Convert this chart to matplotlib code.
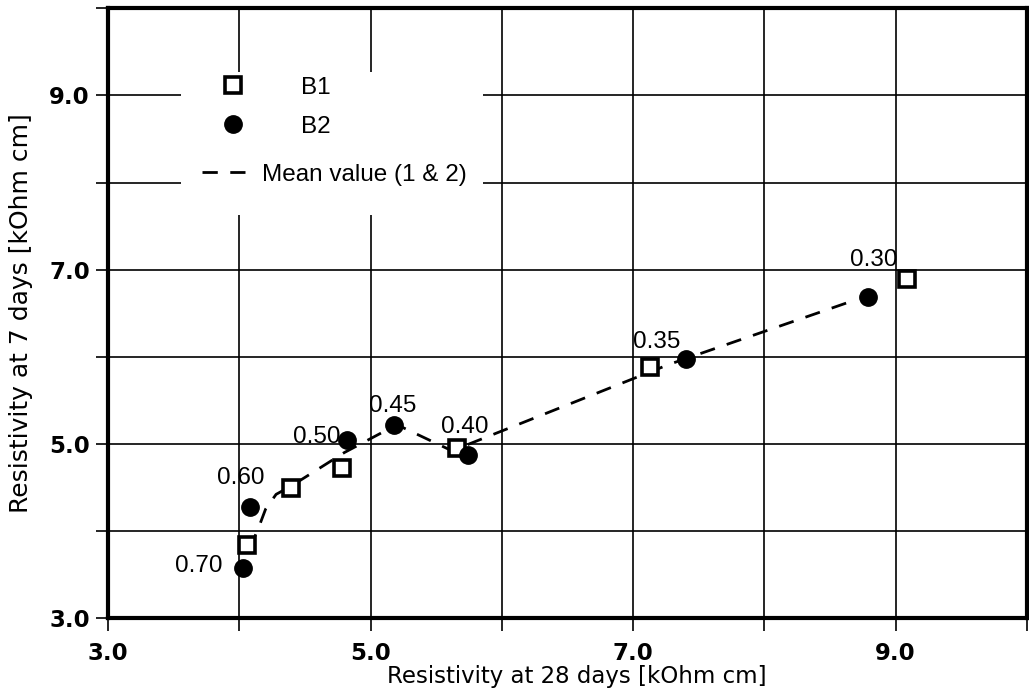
import matplotlib
matplotlib.use("Agg")
import matplotlib.pyplot as plt
from matplotlib.patches import Rectangle
from matplotlib.ticker import FixedLocator, FuncFormatter

# resistivity [kOhm cm] at 28 days (x) and 7 days (y)
b1_x = [4.06, 4.39, 4.78, 5.66, 7.13, 9.09]
b1_y = [3.84, 4.49, 4.72, 4.95, 5.88, 6.89]

b2_x = [4.03, 4.08, 4.82, 5.18, 5.74, 7.40, 8.79]
b2_y = [3.58, 4.27, 5.04, 5.22, 4.87, 5.97, 6.69]

mean_x = [4.08, 4.15, 4.20, 4.28, 4.40, 4.80, 5.20, 5.62, 7.27, 8.65]
mean_y = [3.80, 4.05, 4.25, 4.42, 4.52, 4.90, 5.22, 4.92, 5.91, 6.63]

# w/c ratio labels and where they sit
wc_labels = ["0.70", "0.60", "0.50", "0.45", "0.40", "0.35", "0.30"]
wc_x = [3.69, 4.01, 4.59, 5.17, 5.72, 7.18, 8.83]
wc_y = [3.60, 4.61, 5.08, 5.44, 5.19, 6.17, 7.11]

font = ["Liberation Sans", "DejaVu Sans"]
wide = ["DejaVu Sans"]

fig = plt.figure(figsize=(10.29, 6.96), dpi=100)
ax = fig.add_axes([0.105, 0.112, 0.893, 0.876])

ax.set_xlim(3, 10)
ax.set_ylim(3, 10)

mean_line, = ax.plot(mean_x, mean_y, color="black", lw=2.0, dashes=(5.5, 4.5),
                     zorder=2)
b1_pts, = ax.plot(b1_x, b1_y, ls="none", marker="s", ms=11, mfc="white",
                  mec="black", mew=2.6, zorder=3)
b2_pts, = ax.plot(b2_x, b2_y, ls="none", marker="o", ms=12.5, mfc="black",
                  mec="black", zorder=3)

for t, x, y in zip(wc_labels, wc_x, wc_y):
    ax.text(x, y, t, fontsize=17.5, family=font, ha="center", va="center",
            zorder=4)

ticks = [3, 4, 5, 6, 7, 8, 9, 10]
ax.xaxis.set_major_locator(FixedLocator(ticks))
ax.yaxis.set_major_locator(FixedLocator(ticks))
fmt = FuncFormatter(lambda v, p: f"{v:.1f}" if int(round(v)) % 2 == 1 else "")
ax.xaxis.set_major_formatter(fmt)
ax.yaxis.set_major_formatter(fmt)
ax.tick_params(direction="out", length=9, width=1.2, color="black",
               labelsize=16.5)
ax.tick_params(axis="x", pad=8)
ax.tick_params(axis="y", pad=4)
for lab in ax.get_xticklabels() + ax.get_yticklabels():
    lab.set_family(wide)
    lab.set_fontweight("bold")

ax.grid(True, color="black", lw=1.2, zorder=0)
ax.set_axisbelow(True)
for s in ax.spines.values():
    s.set_linewidth(3)

ax.set_xlabel("Resistivity at 28 days [kOhm cm]", fontsize=16.5, family=wide,
              labelpad=0)
ax.xaxis.label.set_x(0.51)
ax.set_ylabel("Resistivity at 7 days [kOhm cm]", fontsize=18, family=wide,
              labelpad=12)

# blank area behind the key
ax.add_patch(Rectangle((0.0794, 0.661), 0.3287, 0.234, transform=ax.transAxes,
                       facecolor="white", edgecolor="none", zorder=1.5))

key = dict(frameon=False, borderpad=0, borderaxespad=0, loc="center left",
           bbox_transform=fig.transFigure, prop={"family": font, "size": 17.5})
leg1 = ax.legend([b1_pts, b2_pts], ["B1", "B2"], bbox_to_anchor=(0.204, 0.846),
                 handlelength=1.9, handletextpad=1.85, labelspacing=0.7, **key)
ax.add_artist(leg1)
ax.legend([mean_line], ["Mean value (1 & 2)"], bbox_to_anchor=(0.1963, 0.749),
          handlelength=1.77, handletextpad=0.7, **key)

fig.savefig("out.png", dpi=100)
